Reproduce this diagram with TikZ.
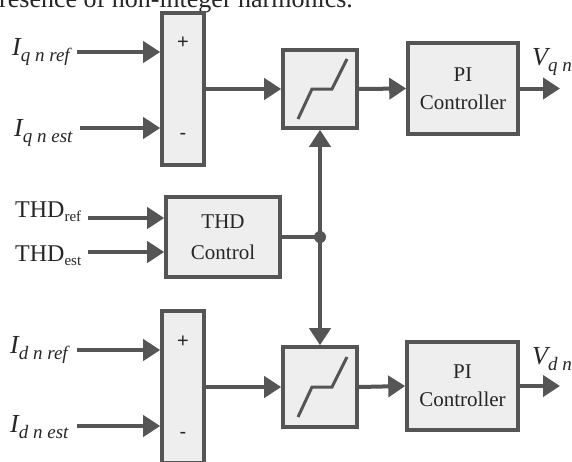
\documentclass[tikz,border=0pt]{standalone}
\usepackage{fontspec}
\setmainfont{Liberation Serif}
\newfontfamily\sansf{Liberation Sans}
\usetikzlibrary{arrows.meta}
\definecolor{ln}{HTML}{555555}
\definecolor{bx}{HTML}{EEEEEE}
\definecolor{tx}{HTML}{262626}
\newcommand{\fs}[1]{\fontsize{#1}{#1}\selectfont}
\newcommand{\sig}[2]{{\fs{26}\itshape #1\raisebox{-6pt}{\fs{19}#2}}}
\begin{document}
\begin{tikzpicture}[x=1pt,y=-1pt,
  blk/.style={draw=ln, line width=3.6pt, fill=bx, inner sep=0pt, align=center, text=tx},
  con/.style={draw=ln, line width=4pt, -{Triangle[length=17pt,width=21pt]}},
  wire/.style={draw=ln, line width=4pt},
  satline/.style={draw=ln, line width=3pt},
  lbl/.style={anchor=base west, inner sep=0pt, text=tx},
  sgn/.style={inner sep=0pt, font=\sansf\fs{20}, text=tx},
]
\useasboundingbox (0,0) rectangle (572,461);
\fill[white] (0,0) rectangle (572,461);

\node[lbl, font=\fs{26}] (cap) at (-1,7) {resence of non-integer harmonics.};

% blocks
\node[blk, minimum width=42pt, minimum height=152pt] (sumq) at (183,89) {};
\node[blk, minimum width=42pt, minimum height=152pt] (sumd) at (183,387) {};
\node[sgn] (pq) at (183,43) {+};
\node[sgn] (mq) at (183,136) {-};
\node[sgn] (pd) at (183,342) {+};
\node[sgn] (md) at (183,435) {-};

\node[blk, minimum width=74pt, minimum height=78pt] (satq) at (320,89) {};
\node[blk, minimum width=74pt, minimum height=80pt] (satd) at (320,387) {};
\draw[satline] ([shift={(-22,30)}]satq.center) -- ++(14,-30) -- ++(20,0) -- ++(15,-30);
\draw[satline] ([shift={(-22,30)}]satd.center) -- ++(14,-30) -- ++(20,0) -- ++(15,-30);

\node[blk, minimum width=110pt, minimum height=91pt, font=\fontsize{21}{28}\selectfont] (piq) at (463,88.5) {PI\\Controller};
\node[blk, minimum width=111pt, minimum height=88pt, font=\fontsize{21}{28}\selectfont] (pid) at (462.5,386) {PI\\Controller};
\node[blk, minimum width=114pt, minimum height=80pt, font=\fontsize{21}{31}\selectfont] (thd) at (223,237) {THD\\Control};

\node[circle, fill=ln, minimum size=12pt, inner sep=0pt] (dot) at (320,237) {};

% labels
\node[lbl] (lqref) at (12,55) {\sig{I}{q n ref}};
\node[lbl] (lqest) at (14,136) {\sig{I}{q n est}};
\node[lbl] (ldref) at (10,353) {\sig{I}{d n ref}};
\node[lbl] (ldest) at (10,432) {\sig{I}{d n est}};
\node[lbl] (lvq) at (532,65) {\sig{V}{q n}};
\node[lbl] (lvd) at (532,364) {\sig{V}{d n}};
\node[lbl, font=\fs{24}] (ltref) at (15,217) {THD\raisebox{-4pt}{\fs{15}ref}};
\node[lbl, font=\fs{24}] (ltest) at (15,261) {THD\raisebox{-4pt}{\fs{15}est}};

% free ends
\coordinate (qref) at (77,52);
\coordinate (qest) at (80,128);
\coordinate (dref) at (77,350);
\coordinate (dest) at (77,426);
\coordinate (tref) at (88,218);
\coordinate (test) at (88,252);
\coordinate (vq) at (560,88.5);
\coordinate (vd) at (560,386);

% connectors
\draw[con] (qref) -- (qref -| sumq.west);
\draw[con] (qest) -- (qest -| sumq.west);
\draw[con] (dref) -- (dref -| sumd.west);
\draw[con] (dest) -- (dest -| sumd.west);
\draw[con] (tref) -- (tref -| thd.west);
\draw[con] (test) -- (test -| thd.west);
\draw[con] (sumq.east) -- (satq.west);
\draw[con] (sumd.east) -- (satd.west);
\draw[con] (satq.east) -- (piq.west);
\draw[con] (satd.east) -- (pid.west);
\draw[con] (piq.east) -- (vq);
\draw[con] (pid.east) -- (vd);
\draw[wire] (thd.east) -- (dot.center);
\draw[con] (dot.center) -- (satq.south);
\draw[con] (dot.center) -- (satd.north);
\end{tikzpicture}
\end{document}
